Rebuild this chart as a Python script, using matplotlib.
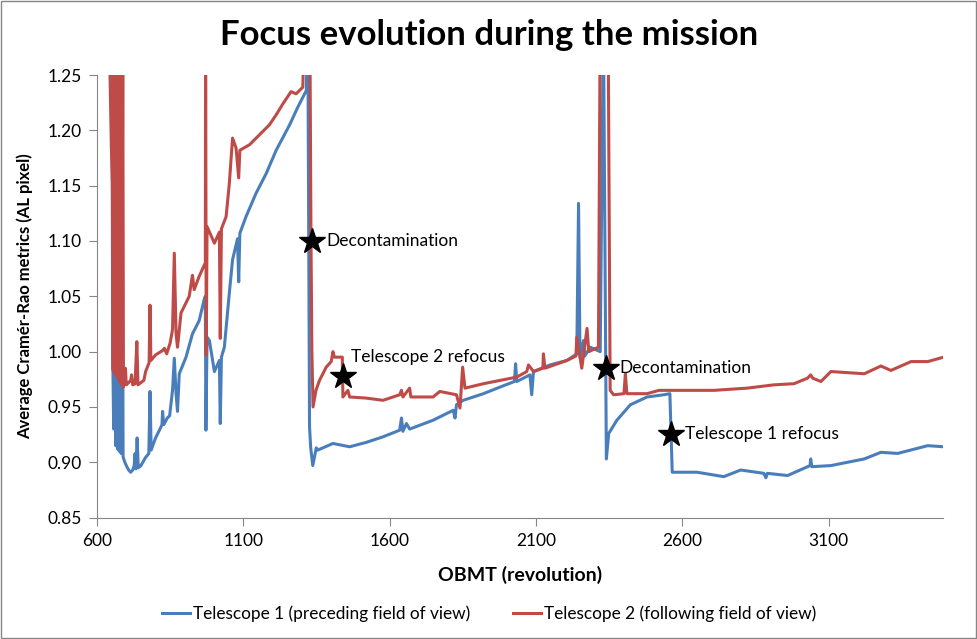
import matplotlib
matplotlib.use('agg')
import matplotlib.pyplot as plt
from matplotlib.patches import Rectangle

# OBMT revolution / Cramer-Rao metric (1.30 = off the top of the chart)
t1_rev = [650, 654, 657, 660, 664, 667, 670, 673, 676, 679, 682, 684, 687, 689,
          695, 702, 708, 715, 722, 727, 730, 733, 737, 741, 750, 765, 777, 781, 785,
          800, 815, 822, 824, 828, 840, 848, 858, 864, 870, 875, 881, 904, 926, 949,
          966, 970, 972, 976, 984, 1001, 1018, 1021, 1025, 1035, 1052, 1063, 1080,
          1084, 1088, 1109, 1143, 1178, 1212, 1258, 1286, 1315, 1320, 1326, 1330,
          1337, 1349, 1354, 1406, 1463, 1520, 1577, 1634, 1640, 1645, 1657, 1668,
          1748, 1817, 1823, 1828, 1851, 1920, 1977, 2026, 2030, 2034, 2079, 2085,
          2091, 2148, 2205, 2239, 2245, 2250, 2262, 2266, 2285, 2319, 2330, 2340,
          2348, 2376, 2422, 2479, 2536, 2557, 2565, 2650, 2741, 2799, 2878, 2885,
          2890, 2959, 3036, 3038, 3042, 3107, 3221, 3278, 3335, 3438, 3492]
t1_val = [1.30, 0.99, 0.93, 1.30, 0.915, 0.975, 0.912, 1.30, 0.91, 0.965, 0.908, 0.955, 1.158, 0.905,
          0.900, 0.896, 0.893, 0.891, 0.893, 0.897, 0.908, 0.894, 0.922, 0.895, 0.897, 0.904, 0.908, 0.964, 0.911,
          0.922, 0.930, 0.934, 0.946, 0.934, 0.940, 0.942, 0.965, 0.994, 0.962, 0.946, 0.980, 0.995, 1.016, 1.028,
          1.047, 1.050, 0.929, 1.013, 1.010, 0.982, 0.992, 0.935, 0.995, 1.004, 1.053, 1.083, 1.102,
          1.063, 1.107, 1.122, 1.143, 1.161, 1.182, 1.205, 1.221, 1.236, 1.30, 0.932, 0.913,
          0.897, 0.913, 0.911, 0.917, 0.914, 0.918, 0.923, 0.929, 0.940, 0.928, 0.935, 0.930,
          0.938, 0.947, 0.940, 0.952, 0.956, 0.962, 0.968, 0.973, 0.989, 0.973, 0.979, 0.961,
          0.982, 0.988, 0.992, 0.998, 1.134, 0.995, 1.010, 0.996, 1.004, 1.000, 1.30, 0.903,
          0.926, 0.938, 0.952, 0.959, 0.961, 0.962, 0.891, 0.891, 0.887, 0.893, 0.890, 0.886,
          0.890, 0.888, 0.897, 0.903, 0.896, 0.897, 0.903, 0.909, 0.908, 0.915, 0.914]

t2_rev = [641, 649, 653, 655, 658, 661, 664, 667, 670, 673, 676, 679, 682, 685, 688, 690,
          692, 697, 700, 708, 715, 718, 722, 730, 736, 740, 750, 760, 766, 778, 781, 784,
          800, 824, 830, 838, 850, 858, 864, 870, 875, 887, 904, 915, 926, 932, 949, 966,
          970, 971, 973, 976, 1001, 1018, 1021, 1025, 1041, 1052, 1063, 1075, 1084, 1088,
          1121, 1155, 1189, 1212, 1235, 1263, 1280, 1303, 1309, 1327, 1331, 1334, 1338,
          1348, 1360, 1383, 1400, 1406, 1411, 1438, 1440, 1457, 1463, 1520, 1577, 1634,
          1640, 1645, 1668, 1672, 1748, 1771, 1828, 1840, 1849, 1857, 1920, 1977, 2034,
          2068, 2074, 2091, 2123, 2125, 2130, 2205, 2236, 2239, 2256, 2274, 2280, 2313,
          2319, 2346, 2353, 2365, 2400, 2405, 2410, 2479, 2520, 2557, 2707, 2821, 2913,
          2981, 3027, 3038, 3045, 3073, 3107, 3221, 3278, 3312, 3381, 3438, 3492]
t2_val = [1.30, 1.185, 1.15, 0.983, 1.30, 0.98, 1.30, 0.978, 1.30, 0.975, 1.30, 0.972, 1.30, 0.970, 1.30, 0.968,
          0.971, 0.985, 0.970, 0.972, 0.974, 0.979, 0.970, 0.971, 1.009, 0.970, 0.972, 0.974, 0.982, 0.990, 1.042, 0.992,
          0.997, 1.001, 1.003, 0.998, 1.008, 1.020, 1.089, 1.016, 1.004, 1.035, 1.044, 1.050, 1.069, 1.056, 1.068, 1.078,
          1.080, 1.30, 0.997, 1.113, 1.098, 1.108, 1.012, 1.111, 1.122, 1.152, 1.193, 1.184, 1.157, 1.182,
          1.187, 1.196, 1.205, 1.214, 1.224, 1.235, 1.233, 1.239, 1.30, 1.30, 1.10, 1.00, 0.950,
          0.965, 0.974, 0.986, 0.991, 1.000, 0.995, 0.995, 0.959, 0.965, 0.959, 0.958, 0.956, 0.961,
          0.965, 0.959, 0.967, 0.959, 0.959, 0.964, 0.961, 0.949, 0.986, 0.967, 0.971, 0.974, 0.977,
          0.982, 0.988, 0.982, 0.985, 0.998, 0.985, 0.992, 0.996, 1.013, 0.985, 1.021, 1.000, 1.004,
          1.30, 1.30, 0.965, 0.961, 0.962, 0.980, 0.962, 0.962, 0.965, 0.965, 0.965, 0.967, 0.970,
          0.971, 0.976, 0.979, 0.976, 0.973, 0.982, 0.980, 0.987, 0.983, 0.991, 0.991, 0.995]

event_rev = [1336, 1442, 2340, 2562]
event_val = [1.100, 0.978, 0.985, 0.926]
event_text = ['Decontamination', 'Telescope 2 refocus', 'Decontamination', 'Telescope 1 refocus']
event_offset = [(14, 0), (8, 19), (13, 0), (14, 0)]  # pixels

yticks = [0.85, 0.90, 0.95, 1.00, 1.05, 1.10, 1.15, 1.20, 1.25]
xticks = [600, 1100, 1600, 2100, 2600, 3100]

plt.rcParams['font.family'] = ['Lato', 'DejaVu Sans']
grey = '#868686'

fig = plt.figure(figsize=(9.78, 6.39), dpi=100)
ax = fig.add_axes([0.0992, 0.190, 0.865, 0.6926])

ax.plot(t1_rev, t1_val, color='#4A7EBB', lw=2.2, label='Telescope 1 (preceding field of view)')
ax.plot(t2_rev, t2_val, color='#BE4B48', lw=2.2, label='Telescope 2 (following field of view)')

ax.plot(event_rev, event_val, linestyle='none', marker='*', markersize=19, color='black')
for r, v, t, off in zip(event_rev, event_val, event_text, event_offset):
    ax.annotate(t, (r, v), xytext=off, textcoords='offset pixels',
                ha='left', va='center', fontsize=12.5)

ax.set_xlim(600, 3490)
ax.set_ylim(0.85, 1.25)
ax.set_xticks(xticks)
ax.set_yticks(yticks)
ax.set_yticklabels(['%.2f' % y for y in yticks])
ax.tick_params(axis='both', direction='out', length=6, color=grey, labelsize=12.5, pad=5)

for s in ['top', 'right']:
    ax.spines[s].set_visible(False)
for s in ['left', 'bottom']:
    ax.spines[s].set_color(grey)

ax.set_xlabel('OBMT (revolution)', fontsize=14, fontweight='bold', labelpad=12)
ax.set_ylabel('Average Cramér-Rao metrics (AL pixel)', fontsize=12, fontweight='bold', labelpad=10)
fig.text(0.5, 0.945, 'Focus evolution during the mission', fontsize=25, fontweight='bold',
         ha='center', va='center')

fig.legend(loc='center', bbox_to_anchor=(0.5, 0.039), ncol=2, frameon=False,
           fontsize=12.4, handlelength=1.65, handletextpad=0.15, columnspacing=2.5)

fig.patches.append(Rectangle((0.001, 0.001), 0.997, 0.997, transform=fig.transFigure,
                             fill=False, edgecolor=grey, lw=1))

fig.savefig('out.png', dpi=100)
